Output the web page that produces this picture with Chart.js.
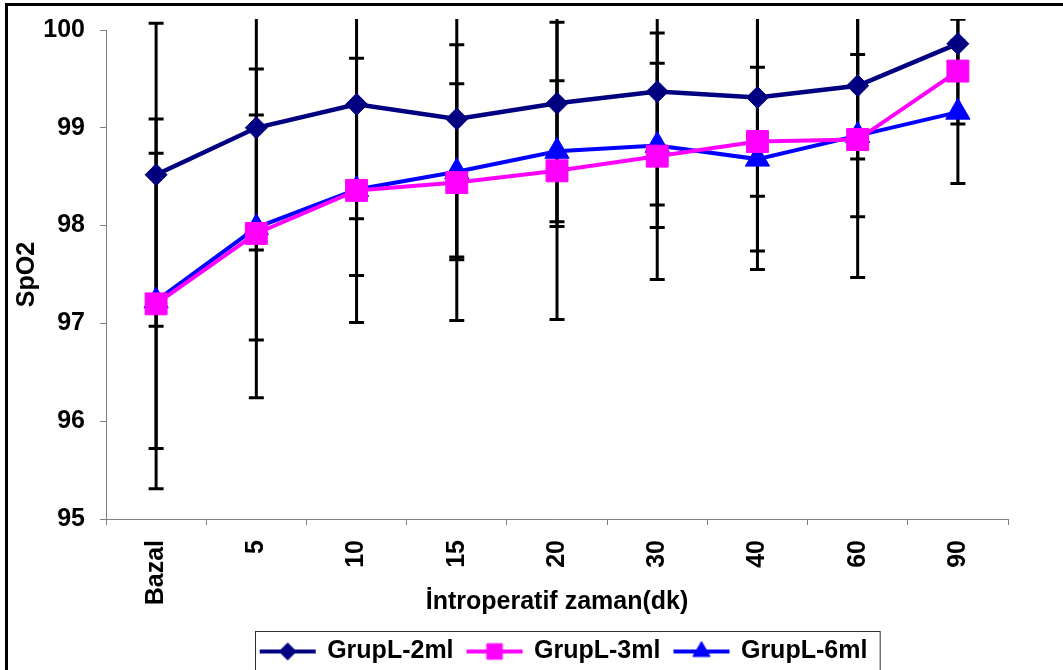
<!DOCTYPE html>
<html>
<head>
<meta charset="utf-8">
<script src="https://cdn.jsdelivr.net/npm/chart.js@4.4.1/dist/chart.umd.min.js"></script>
<style>
  html, body { margin: 0; padding: 0; background: #fff; }
</style>
</head>
<body>
<canvas id="chart" width="1063" height="670"></canvas>
<script>
// categories (x axis)
const categories = ['Bazal', '5', '10', '15', '20', '30', '40', '60', '90'];

// means
const grup2 = [98.52, 99.00, 99.24, 99.09, 99.25, 99.37, 99.31, 99.43, 99.86];
const grup3 = [97.20, 97.92, 98.36, 98.44, 98.56, 98.71, 98.86, 98.88, 99.58];
const grup6 = [97.23, 97.98, 98.37, 98.55, 98.76, 98.82, 98.68, 98.92, 99.16];

// standard deviations (error bars)
const sd2 = [1.55, 1.25, 1.17, 1.41, 1.26, 1.16, 1.01, 0.75, 0.25];
const sd3 = [1.89, 1.68, 1.35, 1.41, 1.52, 1.26, 1.31, 1.41, 0.54];
const sd6 = [1.51, 1.15, 0.88, 0.90, 0.72, 0.84, 0.94, 0.83, 0.73];

const yTicks = [95, 96, 97, 98, 99, 100];

const FONT = "'Liberation Sans', Arial, sans-serif";

// little line+marker pictures for the legend
function legendIcon(color, style, radius) {
  const c = document.createElement('canvas');
  c.width = 60; c.height = 26;
  const g = c.getContext('2d');
  g.strokeStyle = color;
  g.lineWidth = 4;
  g.beginPath(); g.moveTo(2, 13); g.lineTo(58, 13); g.stroke();
  g.fillStyle = color;
  g.lineWidth = 1;
  Chart.helpers.drawPoint(g, { pointStyle: style, radius: radius, rotation: 0, borderWidth: 1 }, 30, 13);
  return c;
}

// error bars, drawn under the lines
const errorBars = {
  id: 'errorBars',
  beforeDatasetsDraw(chart) {
    const { ctx, chartArea, scales: { x, y } } = chart;
    ctx.save();
    ctx.beginPath();
    ctx.rect(chartArea.left, chartArea.top - 11, chartArea.width, chartArea.height + 11);
    ctx.clip();
    ctx.strokeStyle = '#000';
    ctx.lineWidth = 3;
    chart.data.datasets.forEach(ds => {
      ds.errors.forEach((e, i) => {
        const px = x.getPixelForValue(i);
        const hi = y.getPixelForValue(ds.data[i] + e);
        const lo = y.getPixelForValue(ds.data[i] - e);
        ctx.beginPath();
        ctx.moveTo(px, hi); ctx.lineTo(px, lo);
        ctx.moveTo(px - 7.5, hi); ctx.lineTo(px + 7.5, hi);
        ctx.moveTo(px - 7.5, lo); ctx.lineTo(px + 7.5, lo);
        ctx.stroke();
      });
    });
    ctx.restore();
  }
};

// shift the legend a bit right, like the original
const legendShift = {
  id: 'legendShift',
  afterLayout(chart) {
    chart.legend.left += 60;
    chart.legend.right += 60;
  }
};

// outer frame + legend box
const frame = {
  id: 'frame',
  afterDraw(chart) {
    const { ctx, legend } = chart;
    ctx.save();
    ctx.strokeStyle = '#000';
    ctx.lineWidth = 3;
    ctx.strokeRect(6.5, 4.5, chart.width + 20, chart.height + 20);

    const boxes = legend.legendHitBoxes;
    if (boxes && boxes.length) {
      const l = Math.min(...boxes.map(b => b.left)) - 6;
      const r = Math.max(...boxes.map(b => b.left + b.width)) + 12;
      const t = boxes[0].top - 8;
      ctx.lineWidth = 1;
      ctx.strokeStyle = '#333';
      ctx.strokeRect(Math.round(l) + 0.5, Math.round(t) + 0.5, r - l, 80);
    }
    ctx.restore();
  }
};

const icons = [
  legendIcon('#000080', 'rectRot', 8.5),
  legendIcon('#FF00FF', 'rect', 11),
  legendIcon('#0000FF', 'triangle', 10)
];

new Chart(document.getElementById('chart'), {
  type: 'line',
  data: {
    labels: categories,
    datasets: [
      {
        label: 'GrupL-2ml', data: grup2, errors: sd2,
        borderColor: '#000080', backgroundColor: '#000080', borderWidth: 4.5,
        pointStyle: 'rectRot', pointRadius: 11, pointBorderWidth: 1,
        pointBackgroundColor: '#000080', pointBorderColor: '#000080'
      },
      {
        label: 'GrupL-3ml', data: grup3, errors: sd3,
        borderColor: '#FF00FF', backgroundColor: '#FF00FF', borderWidth: 4,
        pointStyle: 'rect', pointRadius: 15.5, pointBorderWidth: 1,
        pointBackgroundColor: '#FF00FF', pointBorderColor: '#FF00FF'
      },
      {
        label: 'GrupL-6ml', data: grup6, errors: sd6,
        borderColor: '#0000FF', backgroundColor: '#0000FF', borderWidth: 4,
        pointStyle: 'triangle', pointRadius: 14, pointBorderWidth: 1,
        pointBackgroundColor: '#0000FF', pointBorderColor: '#0000FF'
      }
    ]
  },
  options: {
    responsive: false,
    animation: false,
    devicePixelRatio: 1,
    layout: { padding: { top: 26, right: 55, left: 0, bottom: -4 } },
    plugins: {
      tooltip: { enabled: false },
      legend: {
        position: 'bottom',
        labels: {
          usePointStyle: true,
          pointStyleWidth: 54,
          padding: 14,
          color: '#000',
          font: { family: FONT, size: 25, weight: 'bold' },
          generateLabels: (chart) => chart.data.datasets.map((ds, i) => ({
            text: ds.label,
            pointStyle: icons[i],
            datasetIndex: i,
            fillStyle: ds.borderColor,
            strokeStyle: ds.borderColor,
            lineWidth: 0,
            hidden: false,
            fontColor: '#000'
          }))
        }
      }
    },
    scales: {
      x: {
        offset: true,
        grid: { offset: true, drawOnChartArea: false, tickLength: 6, color: '#808080' },
        border: { color: '#808080', width: 1 },
        ticks: {
          maxRotation: 90, minRotation: 90, padding: 15, color: '#000',
          font: { family: FONT, size: 25, weight: 'bold' }
        },
        title: {
          display: true, text: 'İntroperatif zaman(dk)', color: '#000',
          padding: { top: 0, bottom: 8 },
          font: { family: FONT, size: 25, weight: 'bold' }
        },
        afterFit: (s) => { s.height = 106; }
      },
      y: {
        min: 95, max: 100,
        afterBuildTicks: (s) => { s.ticks = yTicks.map(v => ({ value: v })); },
        grid: { drawOnChartArea: false, tickLength: 6, color: '#808080' },
        border: { color: '#808080', width: 1 },
        ticks: {
          padding: 15, color: '#000',
          font: { family: FONT, size: 25, weight: 'bold' }
        },
        title: {
          display: true, text: 'SpO2', color: '#000',
          padding: { top: 12, bottom: 0 },
          font: { family: FONT, size: 25, weight: 'bold' }
        },
        afterFit: (s) => { s.width = 106; }
      }
    }
  },
  plugins: [errorBars, legendShift, frame]
});
</script>
</body>
</html>
